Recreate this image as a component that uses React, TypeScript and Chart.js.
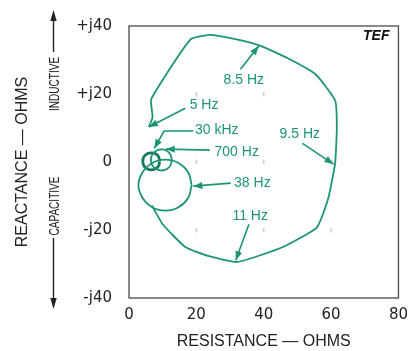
import React, { useEffect, useRef } from 'react';
import { Chart, registerables } from 'chart.js';

Chart.register(...registerables);

// Axis ticks
const xTickValues = [0, 20, 40, 60, 80];
const yTickValues = [-40, -20, 0, 20, 40];
const yTickLabels = ['-j40', '-j20', '0', '+j20', '+j40'];

// Main loop: 5 Hz -> 8.5 Hz -> 9.5 Hz -> 11 Hz (resistance, reactance in ohms)
const mainLoopR = [5.9, 7.0, 6.6, 18.2, 24.0, 31.2, 38.9, 47.0, 55.4, 61.2, 61.7, 61.2, 59.2, 55.8, 45.7, 32.2, 23.5, 16.7, 10.0, 6.8];
const mainLoopX = [10.3, 13.2, 18.5, 36.0, 37.4, 36.2, 34.2, 30.6, 25.8, 18.1, 10.0, -0.3, -10.5, -19.2, -25.0, -29.4, -27.6, -25.0, -18.3, -12.8];

// 38 Hz loop
const loop38R = [18.6, 17.6, 14.7, 10.8, 6.9, 4.0, 2.8, 4.0, 6.9, 10.8, 14.7, 17.6, 18.6];
const loop38X = [-6.8, -3.1, -0.3, 0.7, -0.3, -3.1, -6.8, -10.5, -13.3, -14.3, -13.3, -10.5, -6.8];

// 700 Hz loop
const loop700R = [12.7, 12.3, 11.2, 9.6, 8.1, 6.9, 6.5, 6.9, 8.1, 9.6, 11.2, 12.3, 12.7];
const loop700X = [0.6, 2.2, 3.3, 3.7, 3.3, 2.2, 0.6, -1.0, -2.1, -2.5, -2.1, -1.0, 0.6];

// 30 kHz loop
const loop30kR = [9.1, 8.8, 7.9, 6.6, 5.4, 4.4, 4.1, 4.4, 5.4, 6.6, 7.9, 8.8, 9.1];
const loop30kX = [0.2, 1.5, 2.4, 2.7, 2.4, 1.5, 0.2, -1.1, -2.0, -2.3, -2.0, -1.1, 0.2];

// Frequency annotations
const noteTexts = ['8.5 Hz', '5 Hz', '30 kHz', '700 Hz', '9.5 Hz', '38 Hz', '11 Hz'];
const noteR = [34.1, 18.0, 19.6, 25.4, 44.7, 31.2, 30.7];
const noteX = [24.2, 16.8, 9.3, 2.8, 8.1, -6.2, -15.8];
const noteAlign = ['center', 'left', 'left', 'left', 'left', 'left', 'left'];
const notePaths = [
  [[33.1, 27.3], [38.5, 34.1]],
  [[16.7, 15.8], [5.9, 10.3]],
  [[19.1, 9.1], [10.4, 9.1], [7.5, 4.0]],
  [[24.0, 3.5], [10.9, 3.8]],
  [[51.5, 5.5], [60.7, -0.6]],
  [[30.2, -6.2], [19.1, -7.1]],
  [[35.6, -18.3], [31.7, -28.9]],
];

const GREEN = '#1d9574';
const DARK = '#222222';

const zip = (a: number[], b: number[]) => a.map((v, i) => ({ x: v, y: b[i] }));

function arrowHead(ctx: CanvasRenderingContext2D, x1: number, y1: number, x2: number, y2: number, len: number, half: number) {
  const ang = Math.atan2(y2 - y1, x2 - x1);
  ctx.beginPath();
  ctx.moveTo(x2, y2);
  ctx.lineTo(x2 - len * Math.cos(ang) + half * Math.sin(ang), y2 - len * Math.sin(ang) - half * Math.cos(ang));
  ctx.lineTo(x2 - len * Math.cos(ang) - half * Math.sin(ang), y2 - len * Math.sin(ang) + half * Math.cos(ang));
  ctx.closePath();
  ctx.fill();
}

const overlayPlugin = {
  id: 'overlay',
  beforeDatasetsDraw(chart: any) {
    const { ctx, chartArea, scales } = chart;
    const xs = scales.x, ys = scales.y;
    ctx.save();
    // faint grid marks
    ctx.strokeStyle = '#c9c9c9';
    ctx.lineWidth = 1;
    for (const gx of xTickValues.slice(1, -1)) {
      for (const gy of yTickValues.slice(1, -1)) {
        const px = xs.getPixelForValue(gx), py = ys.getPixelForValue(gy);
        ctx.beginPath();
        ctx.moveTo(px, py - 2.5); ctx.lineTo(px, py + 2.5);
        ctx.moveTo(px - 1.5, py); ctx.lineTo(px + 1.5, py);
        ctx.stroke();
      }
    }
    // frame
    ctx.strokeStyle = '#4a4a4a';
    ctx.lineWidth = 1.3;
    ctx.strokeRect(chartArea.left, chartArea.top, chartArea.right - chartArea.left, chartArea.bottom - chartArea.top);
    ctx.restore();
  },
  afterDatasetsDraw(chart: any) {
    const { ctx, chartArea, scales } = chart;
    const xs = scales.x, ys = scales.y;
    ctx.save();
    // annotations
    ctx.strokeStyle = GREEN;
    ctx.fillStyle = GREEN;
    ctx.lineWidth = 1.6;
    notePaths.forEach((path) => {
      const pts = path.map(([r, x]) => [xs.getPixelForValue(r), ys.getPixelForValue(x)]);
      ctx.beginPath();
      pts.forEach(([px, py], i) => (i === 0 ? ctx.moveTo(px, py) : ctx.lineTo(px, py)));
      ctx.stroke();
      const a = pts[pts.length - 2], b = pts[pts.length - 1];
      arrowHead(ctx, a[0], a[1], b[0], b[1], 9, 3.5);
    });
    ctx.font = '14px "Liberation Sans", Arial, sans-serif';
    ctx.textBaseline = 'middle';
    noteTexts.forEach((t, i) => {
      ctx.textAlign = noteAlign[i] as CanvasTextAlign;
      ctx.fillText(t, xs.getPixelForValue(noteR[i]), ys.getPixelForValue(noteX[i]));
    });
    // TEF mark
    ctx.fillStyle = '#111';
    ctx.font = 'italic bold 14px "Liberation Sans", Arial, sans-serif';
    ctx.textAlign = 'right';
    ctx.fillText('TEF', chartArea.right - 9, chartArea.top + 10);

    // INDUCTIVE / CAPACITIVE side labels with arrows
    ctx.fillStyle = DARK;
    ctx.strokeStyle = DARK;
    ctx.lineWidth = 1.4;
    ctx.font = '15px "Liberation Sans", Arial, sans-serif';
    ctx.textAlign = 'center';
    const sx = 55;
    ctx.save();
    ctx.translate(sx, 84);
    ctx.rotate(-Math.PI / 2);
    ctx.scale(0.67, 1);
    ctx.fillText('INDUCTIVE', 0, 0);
    ctx.restore();
    ctx.save();
    ctx.translate(sx, 206);
    ctx.rotate(-Math.PI / 2);
    ctx.scale(0.67, 1);
    ctx.fillText('CAPACITIVE', 0, 0);
    ctx.restore();
    const lx = sx - 1.5;
    ctx.beginPath();
    ctx.moveTo(lx, 52); ctx.lineTo(lx, 18);
    ctx.moveTo(lx, 238); ctx.lineTo(lx, 300);
    ctx.stroke();
    arrowHead(ctx, lx, 52, lx, 10, 11, 3.2);
    arrowHead(ctx, lx, 238, lx, 309, 11, 3.2);
    ctx.restore();
  },
};

export default function App() {
  const ref = useRef<HTMLCanvasElement | null>(null);
  useEffect(() => {
    if (!ref.current) return;
    const lineDs = (data: { x: number; y: number }[], width: number, color: string, tension: number) => ({
      data,
      showLine: true,
      borderColor: color,
      backgroundColor: color,
      borderWidth: width,
      pointRadius: 0,
      tension,
      fill: false,
    });
    const chart = new Chart(ref.current, {
      type: 'scatter',
      data: {
        datasets: [
          lineDs(zip(mainLoopR, mainLoopX), 1.8, GREEN, 0.15),
          lineDs(zip(loop38R, loop38X), 1.8, GREEN, 0.4),
          lineDs(zip(loop700R, loop700X), 1.8, GREEN, 0.4),
          lineDs(zip(loop30kR, loop30kX), 2.8, '#167a5d', 0.4),
        ],
      },
      options: {
        animation: false,
        responsive: false,
        devicePixelRatio: 1,
        layout: { padding: { top: 24, right: 11, bottom: 0, left: 0 } },
        plugins: { legend: { display: false }, tooltip: { enabled: false } },
        scales: {
          x: {
            type: 'linear',
            min: 0,
            max: 80,
            afterBuildTicks: (s: any) => { s.ticks = xTickValues.map((v) => ({ value: v })); },
            ticks: {
              color: DARK,
              font: { family: '"DejaVu Sans", sans-serif', size: 15 },
              padding: 8,
              maxRotation: 0,
            },
            grid: { display: false, drawTicks: false },
            border: { display: false },
            title: {
              display: true,
              text: 'RESISTANCE — OHMS',
              color: DARK,
              font: { family: '"Liberation Sans", Arial, sans-serif', size: 16 },
              padding: { top: 0, bottom: 0 },
            },
            afterFit: (s: any) => { s.height = 53; },
          },
          y: {
            type: 'linear',
            min: -40,
            max: 40,
            afterBuildTicks: (s: any) => { s.ticks = yTickValues.map((v) => ({ value: v })); },
            ticks: {
              color: DARK,
              font: { family: '"DejaVu Sans", sans-serif', size: 15 },
              padding: 17,
              callback: (v: any) => yTickLabels[yTickValues.indexOf(Number(v))] ?? '',
            },
            grid: { display: false, drawTicks: false },
            border: { display: false },
            title: {
              display: true,
              text: 'REACTANCE — OHMS',
              color: DARK,
              font: { family: '"Liberation Sans", Arial, sans-serif', size: 16 },
              padding: { top: 13, bottom: 0 },
            },
            afterFit: (s: any) => { s.width = 129; },
          },
        },
      },
      plugins: [overlayPlugin],
    } as any);
    return () => chart.destroy();
  }, []);
  return (
    <div style={{ position: 'fixed', left: 0, top: 0, width: 416, height: 351, background: '#fff' }}>
      <canvas ref={ref} width={416} height={351} style={{ width: 416, height: 351, display: 'block' }} />
    </div>
  );
}
